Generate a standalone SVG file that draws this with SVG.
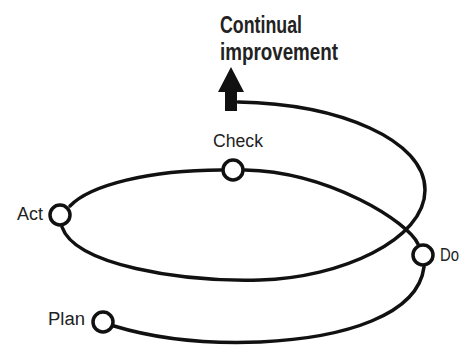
<svg xmlns="http://www.w3.org/2000/svg" width="463" height="345" viewBox="0 0 463 345">
<style>
.ln{fill:none;stroke:#111;stroke-width:3.5;stroke-linecap:round}
.nd{fill:#fff;stroke:#111;stroke-width:3.5}
.lb{font-family:"Liberation Sans",sans-serif;font-size:18px;fill:#222}
.tt{font-family:"Liberation Sans",sans-serif;font-size:23px;font-weight:bold;fill:#222}
</style>
<rect width="463" height="345" fill="#fff"/>
<g id="connectors">
<path class="ln" d="M114,326 C160,340 210,344 260,342 C345,338 418,315 424,267"/>
<path class="ln" d="M418,244 C408,222 330,172 245,170"/>
<path class="ln" d="M221,170 C150,170 90,185 70,206"/>
<path class="ln" d="M62,227 C75,265 180,282 260,280 C340,278 425,240 425,190 C425,140 340,104 238,102"/>
<polygon fill="#111" points="231,67 244,92 237,92 237,111 225,111 225,92 218,92"/>
</g>
<g id="title"><text class="tt" x="220" y="33" textLength="82" lengthAdjust="spacingAndGlyphs">Continual</text><text class="tt" x="220" y="60" textLength="118" lengthAdjust="spacingAndGlyphs">improvement</text></g>
<g id="check"><circle class="nd" cx="233" cy="170" r="10"/><text class="lb" x="213" y="147" textLength="50" lengthAdjust="spacingAndGlyphs">Check</text></g>
<g id="act"><circle class="nd" cx="60" cy="215" r="10"/><text class="lb" x="17" y="220" textLength="26" lengthAdjust="spacingAndGlyphs">Act</text></g>
<g id="plan"><circle class="nd" cx="103" cy="322" r="10"/><text class="lb" x="48" y="325" textLength="37" lengthAdjust="spacingAndGlyphs">Plan</text></g>
<g id="do"><circle class="nd" cx="423" cy="255" r="10"/><text class="lb" x="440" y="261" textLength="19" lengthAdjust="spacingAndGlyphs">Do</text></g>
</svg>
